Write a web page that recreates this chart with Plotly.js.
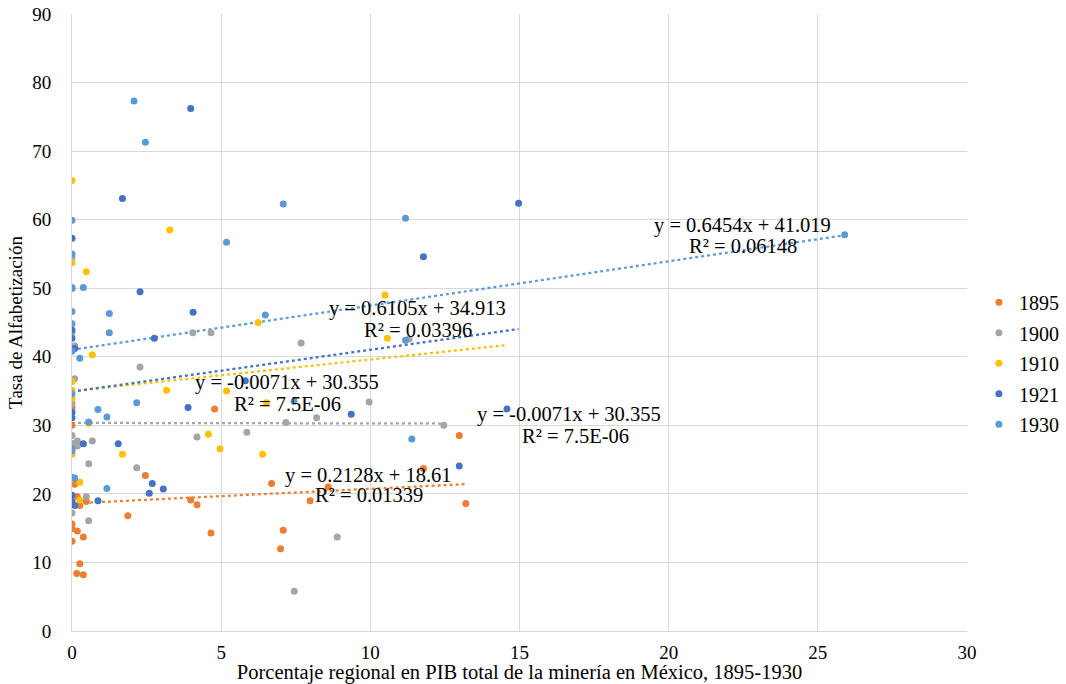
<!DOCTYPE html>
<html>
<head>
<meta charset="utf-8">
<script src="https://cdn.plot.ly/plotly-3.0.1.min.js"></script>
<style>html,body{margin:0;padding:0;background:#fff;}#chart{width:1066px;height:684px;}</style>
</head>
<body>
<div id="chart"></div>
<script>
// ---- Data ----
const years = ['1895', '1900', '1910', '1921', '1930'];
const colors = ['#ED7D31', '#A5A5A5', '#FFC000', '#4472C4', '#5B9BD5'];

const x1895 = [0, 0, 0.09, 0.18, 0.26, 0.48, 0, 0, 0.18, 0.38, 0, 0.26, 0.16, 0.38, 1.87, 2.46, 3.98, 4.19, 4.66, 4.78, 6.69, 6.99, 7.08, 7.98, 8.59, 11.78, 12.98, 13.2];
const y1895 = [32.6, 30.0, 21.4, 19.6, 18.3, 18.9, 15.6, 14.9, 14.6, 13.7, 13.1, 9.8, 8.4, 8.2, 16.8, 22.7, 19.1, 18.4, 14.3, 32.4, 21.5, 12.0, 14.7, 19.0, 21.0, 23.7, 28.5, 18.6];

const x1900 = [0, 0, 0.09, 0.09, 0, 0, 0.18, 0, 0.18, 0.68, 0.56, 0.48, 0, 0.56, 2.17, 2.28, 4.05, 4.66, 4.19, 5.86, 7.17, 7.45, 7.68, 8.2, 8.89, 9.96, 11.3, 12.46];
const y1900 = [54.5, 43.5, 41.6, 36.8, 33.2, 28.5, 27.7, 27.4, 27.0, 27.7, 24.4, 19.6, 17.2, 16.1, 23.8, 38.5, 43.5, 43.5, 28.3, 29.0, 30.4, 5.8, 42.0, 31.1, 13.7, 33.4, 42.6, 30.0];

const x1910 = [0, 0, 0.48, 0.68, 0, 0, 0, 0.56, 0, 0.26, 0.26, 1.69, 3.17, 3.28, 4.57, 4.96, 5.18, 6.24, 6.39, 6.52, 10.49, 10.57];
const y1910 = [65.7, 53.7, 52.4, 40.3, 36.4, 35.1, 33.9, 30.3, 25.8, 21.7, 19.1, 25.8, 35.1, 58.5, 28.7, 26.6, 35.0, 45.0, 25.8, 33.3, 49.0, 42.7];

const x1921 = [0, 0, 0, 0, 0.09, 0, 0, 0.38, 0, 0, 0.09, 0.87, 1.55, 1.69, 2.28, 2.59, 2.69, 2.76, 3.06, 3.89, 3.98, 4.06, 5.81, 9.36, 11.78, 12.98, 14.58, 14.97];
const y1921 = [57.3, 50.0, 43.9, 42.7, 41.2, 31.9, 31.1, 27.3, 19.8, 18.9, 18.3, 19.0, 27.3, 63.1, 49.5, 20.1, 21.5, 42.7, 20.7, 32.6, 76.2, 46.5, 36.5, 31.6, 54.6, 24.05, 32.4, 62.4];

const x1930 = [0, 0, 0, 0.38, 0, 1.25, 0, 1.25, 0, 0.26, 0, 0.87, 1.17, 0.56, 0, 0, 0, 0.09, 1.17, 2.08, 2.46, 2.17, 5.18, 6.48, 7.08, 7.44, 11.18, 11.18, 11.39, 25.9];
const y1930 = [59.9, 55.0, 50.1, 50.1, 46.6, 46.3, 44.8, 43.5, 40.8, 39.8, 34.6, 32.3, 31.2, 30.5, 26.6, 26.3, 22.4, 22.3, 20.8, 77.3, 71.3, 33.3, 56.7, 46.1, 62.3, 33.5, 60.2, 42.4, 28.0, 57.8];

// Linear trendlines (slope, intercept, x-range end)
const trendSlope = [0.2128, -0.0071, 0.46, 0.6105, 0.6454];
const trendIntercept = [18.61, 30.355, 35.0, 34.913, 41.019];
const trendXEnd = [13.2, 12.46, 14.5, 14.97, 25.9];

// Trendline labels as shown
const labelEq = ['y = 0.2128x + 18.61', 'y = -0.0071x + 30.355', 'y = -0.0071x + 30.355', 'y = 0.6105x + 34.913', 'y = 0.6454x + 41.019'];
const labelR2 = ['R² = 0.01339', 'R² = 7.5E-06', 'R² = 7.5E-06', 'R² = 0.03396', 'R² = 0.06148'];

const xTickVals = [0, 5, 10, 15, 20, 25, 30];
const yTickVals = [0, 10, 20, 30, 40, 50, 60, 70, 80, 90];
const xTitle = 'Porcentaje regional en PIB total de la minería en México, 1895-1930';
const yTitle = 'Tasa de Alfabetización';

// ---- Build chart ----
const xs = [x1895, x1900, x1910, x1921, x1930];
const ys = [y1895, y1900, y1910, y1921, y1930];
const FONT = 'Liberation Serif';

const traces = [];
for (let i = 0; i < years.length; i++) {
  const xe = trendXEnd[i];
  traces.push({
    type: 'scatter', mode: 'lines', x: [0, xe],
    y: [trendIntercept[i], trendIntercept[i] + trendSlope[i] * xe],
    line: {color: colors[i], width: 2.25, dash: 'dot'},
    showlegend: false, hoverinfo: 'skip'
  });
}
for (let i = 0; i < years.length; i++) {
  traces.push({
    type: 'scatter', mode: 'markers', name: years[i], x: xs[i], y: ys[i],
    marker: {color: colors[i], size: 7},
    legendgroup: years[i]
  });
}

// label positions (data coordinates) — layout only
const labelPos = [
  [[9.94, 22.75], [9.95, 19.8]],
  [[16.65, 31.65], [16.88, 28.4]],
  [[7.22, 36.2], [7.24, 33.1]],
  [[11.59, 47.0], [11.6, 43.9]],
  [[22.48, 59.2], [22.48, 56.2]]
];
const annotations = [];
for (let i = 0; i < years.length; i++) {
  annotations.push({x: labelPos[i][0][0], y: labelPos[i][0][1], xref: 'x', yref: 'y', text: labelEq[i], showarrow: false, xanchor: 'center', yanchor: 'middle', font: {family: FONT, size: 20.5, color: '#000'}});
  annotations.push({x: labelPos[i][1][0], y: labelPos[i][1][1], xref: 'x', yref: 'y', text: labelR2[i], showarrow: false, xanchor: 'center', yanchor: 'middle', font: {family: FONT, size: 20.5, color: '#000'}});
}

const layout = {
  width: 1066, height: 684,
  margin: {l: 72, r: 99, t: 14, b: 53, pad: 0, autoexpand: false},
  paper_bgcolor: '#fff', plot_bgcolor: '#fff',
  font: {family: FONT, size: 19, color: '#000'},
  showlegend: true,
  legend: {x: 1.0133, xanchor: 'left', y: 0.434, yanchor: 'middle', font: {family: FONT, size: 20, color: '#000'}, traceorder: 'grouped', tracegroupgap: 1.5, bgcolor: 'rgba(0,0,0,0)', itemwidth: 30},
  xaxis: {
    range: [0, 30], tickvals: xTickVals, showgrid: true, gridcolor: '#D9D9D9', gridwidth: 1,
    zeroline: false, showline: true, linecolor: '#D9D9D9', linewidth: 1,
    ticks: '', ticklabelstandoff: 4, tickfont: {family: FONT, size: 19, color: '#000'},
    title: {text: xTitle, font: {family: FONT, size: 20.5, color: '#000'}, standoff: 0}
  },
  yaxis: {
    range: [0, 90], tickvals: yTickVals, showgrid: true, gridcolor: '#D9D9D9', gridwidth: 1,
    zeroline: false, showline: true, linecolor: '#D9D9D9', linewidth: 1,
    ticks: '', ticklabelstandoff: 16, tickfont: {family: FONT, size: 19, color: '#000'},
    title: {text: yTitle, font: {family: FONT, size: 19, color: '#000'}, standoff: 4}
  },
  annotations: annotations
};

Plotly.newPlot('chart', traces, layout, {displayModeBar: false, staticPlot: true});
</script>
</body>
</html>
